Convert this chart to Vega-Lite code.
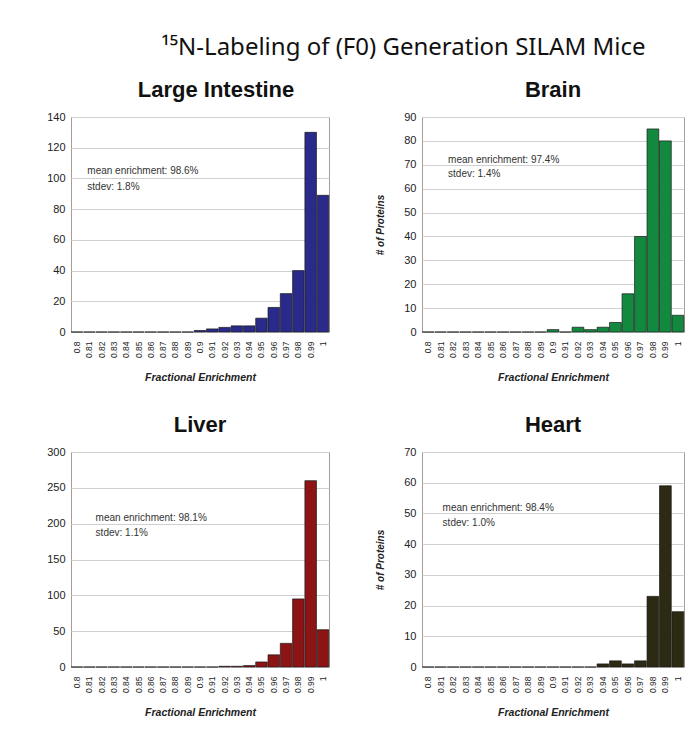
{
  "$schema": "https://vega.github.io/schema/vega-lite/v6.json",
  "padding": {"left": 46, "top": 35, "right": 4, "bottom": 4},
  "background": "white",
  "title": {"text": "¹⁵N-Labeling of (F0) Generation SILAM Mice", "font": "Noto Sans", "fontSize": 24, "fontWeight": "normal", "color": "#111", "anchor": "middle", "dx": 38, "offset": 19},
  "datasets": {
    "li": [
      {"fe": "0.8", "n": 0}, {"fe": "0.81", "n": 0}, {"fe": "0.82", "n": 0}, {"fe": "0.83", "n": 0}, {"fe": "0.84", "n": 0}, {"fe": "0.85", "n": 0}, {"fe": "0.86", "n": 0}, {"fe": "0.87", "n": 0}, {"fe": "0.88", "n": 0}, {"fe": "0.89", "n": 0},
      {"fe": "0.9", "n": 1}, {"fe": "0.91", "n": 2}, {"fe": "0.92", "n": 3}, {"fe": "0.93", "n": 4}, {"fe": "0.94", "n": 4}, {"fe": "0.95", "n": 9}, {"fe": "0.96", "n": 16}, {"fe": "0.97", "n": 25}, {"fe": "0.98", "n": 40}, {"fe": "0.99", "n": 130}, {"fe": "1", "n": 89}
    ],
    "brain": [
      {"fe": "0.8", "n": 0}, {"fe": "0.81", "n": 0}, {"fe": "0.82", "n": 0}, {"fe": "0.83", "n": 0}, {"fe": "0.84", "n": 0}, {"fe": "0.85", "n": 0}, {"fe": "0.86", "n": 0}, {"fe": "0.87", "n": 0}, {"fe": "0.88", "n": 0}, {"fe": "0.89", "n": 0},
      {"fe": "0.9", "n": 1}, {"fe": "0.91", "n": 0}, {"fe": "0.92", "n": 2}, {"fe": "0.93", "n": 1}, {"fe": "0.94", "n": 2}, {"fe": "0.95", "n": 4}, {"fe": "0.96", "n": 16}, {"fe": "0.97", "n": 40}, {"fe": "0.98", "n": 85}, {"fe": "0.99", "n": 80}, {"fe": "1", "n": 7}
    ],
    "liver": [
      {"fe": "0.8", "n": 0}, {"fe": "0.81", "n": 0}, {"fe": "0.82", "n": 0}, {"fe": "0.83", "n": 0}, {"fe": "0.84", "n": 0}, {"fe": "0.85", "n": 0}, {"fe": "0.86", "n": 0}, {"fe": "0.87", "n": 0}, {"fe": "0.88", "n": 0}, {"fe": "0.89", "n": 0},
      {"fe": "0.9", "n": 0}, {"fe": "0.91", "n": 0}, {"fe": "0.92", "n": 1}, {"fe": "0.93", "n": 1}, {"fe": "0.94", "n": 2}, {"fe": "0.95", "n": 7}, {"fe": "0.96", "n": 17}, {"fe": "0.97", "n": 33}, {"fe": "0.98", "n": 95}, {"fe": "0.99", "n": 260}, {"fe": "1", "n": 52}
    ],
    "heart": [
      {"fe": "0.8", "n": 0}, {"fe": "0.81", "n": 0}, {"fe": "0.82", "n": 0}, {"fe": "0.83", "n": 0}, {"fe": "0.84", "n": 0}, {"fe": "0.85", "n": 0}, {"fe": "0.86", "n": 0}, {"fe": "0.87", "n": 0}, {"fe": "0.88", "n": 0}, {"fe": "0.89", "n": 0},
      {"fe": "0.9", "n": 0}, {"fe": "0.91", "n": 0}, {"fe": "0.92", "n": 0}, {"fe": "0.93", "n": 0}, {"fe": "0.94", "n": 1}, {"fe": "0.95", "n": 2}, {"fe": "0.96", "n": 1}, {"fe": "0.97", "n": 2}, {"fe": "0.98", "n": 23}, {"fe": "0.99", "n": 59}, {"fe": "1", "n": 18}
    ],
    "notes": [
      {"panel": "li", "fe": "0.81", "y": 105, "label": "mean enrichment: 98.6%"},
      {"panel": "li", "fe": "0.81", "y": 94.5, "label": "stdev: 1.8%"},
      {"panel": "brain", "fe": "0.82", "y": 72, "label": "mean enrichment: 97.4%"},
      {"panel": "brain", "fe": "0.82", "y": 66, "label": "stdev: 1.4%"},
      {"panel": "liver", "fe": "0.82", "y": 208, "label": "mean enrichment: 98.1%"},
      {"panel": "liver", "fe": "0.82", "y": 187, "label": "stdev: 1.1%"},
      {"panel": "heart", "fe": "0.81", "y": 51.7, "label": "mean enrichment: 98.4%"},
      {"panel": "heart", "fe": "0.81", "y": 47, "label": "stdev: 1.0%"}
    ]
  },
  "columns": 2,
  "spacing": {"row": 29, "column": 45},
  "concat": [
    {
      "title": {"text": "Large Intestine", "dx": 16},
      "width": 258, "height": 215,
      "layer": [
        {
          "data": {"name": "li"},
          "mark": {"type": "bar", "fill": "#2a2a8a", "stroke": "#1a1a1a", "strokeWidth": 0.7},
          "encoding": {
            "x": {"field": "fe", "type": "ordinal", "scale": {"paddingInner": 0.06, "paddingOuter": 0.02}, "axis": {"title": "Fractional Enrichment"}},
            "y": {"field": "n", "type": "quantitative", "scale": {"domain": [0, 140]}, "axis": {"values": [0, 20, 40, 60, 80, 100, 120, 140], "title": null}}
          }
        },
        {
          "data": {"name": "notes"},
          "transform": [{"filter": "datum.panel === 'li'"}],
          "mark": {"type": "text", "align": "left", "baseline": "middle", "font": "Liberation Sans", "fontSize": 10, "color": "#333", "dx": -2},
          "encoding": {
            "x": {"field": "fe", "type": "ordinal", "axis": {"title": "Fractional Enrichment"}},
            "y": {"field": "y", "type": "quantitative", "axis": {"values": [0, 20, 40, 60, 80, 100, 120, 140], "title": null}},
            "text": {"field": "label"}
          }
        }
      ]
    },
    {
      "title": {"text": "Brain"},
      "width": 262, "height": 215,
      "layer": [
        {
          "data": {"name": "brain"},
          "mark": {"type": "bar", "fill": "#13893f", "stroke": "#1a1a1a", "strokeWidth": 0.7},
          "encoding": {
            "x": {"field": "fe", "type": "ordinal", "scale": {"paddingInner": 0.06, "paddingOuter": 0.02}, "axis": {"title": "Fractional Enrichment"}},
            "y": {"field": "n", "type": "quantitative", "scale": {"domain": [0, 90]}, "axis": {"values": [0, 10, 20, 30, 40, 50, 60, 70, 80, 90], "title": "# of Proteins"}}
          }
        },
        {
          "data": {"name": "notes"},
          "transform": [{"filter": "datum.panel === 'brain'"}],
          "mark": {"type": "text", "align": "left", "baseline": "middle", "font": "Liberation Sans", "fontSize": 10, "color": "#333", "dx": -5},
          "encoding": {
            "x": {"field": "fe", "type": "ordinal", "axis": {"title": "Fractional Enrichment"}},
            "y": {"field": "y", "type": "quantitative", "axis": {"values": [0, 10, 20, 30, 40, 50, 60, 70, 80, 90], "title": "# of Proteins"}},
            "text": {"field": "label"}
          }
        }
      ]
    },
    {
      "title": {"text": "Liver"},
      "width": 258, "height": 215,
      "layer": [
        {
          "data": {"name": "liver"},
          "mark": {"type": "bar", "fill": "#8c1414", "stroke": "#1a1a1a", "strokeWidth": 0.7},
          "encoding": {
            "x": {"field": "fe", "type": "ordinal", "scale": {"paddingInner": 0.06, "paddingOuter": 0.02}, "axis": {"title": "Fractional Enrichment"}},
            "y": {"field": "n", "type": "quantitative", "scale": {"domain": [0, 300]}, "axis": {"values": [0, 50, 100, 150, 200, 250, 300], "title": null}}
          }
        },
        {
          "data": {"name": "notes"},
          "transform": [{"filter": "datum.panel === 'liver'"}],
          "mark": {"type": "text", "align": "left", "baseline": "middle", "font": "Liberation Sans", "fontSize": 10, "color": "#333", "dx": -6},
          "encoding": {
            "x": {"field": "fe", "type": "ordinal", "axis": {"title": "Fractional Enrichment"}},
            "y": {"field": "y", "type": "quantitative", "axis": {"values": [0, 50, 100, 150, 200, 250, 300], "title": null}},
            "text": {"field": "label"}
          }
        }
      ]
    },
    {
      "title": {"text": "Heart"},
      "width": 262, "height": 215,
      "layer": [
        {
          "data": {"name": "heart"},
          "mark": {"type": "bar", "fill": "#2c2a12", "stroke": "#1a1a1a", "strokeWidth": 0.7},
          "encoding": {
            "x": {"field": "fe", "type": "ordinal", "scale": {"paddingInner": 0.06, "paddingOuter": 0.02}, "axis": {"title": "Fractional Enrichment"}},
            "y": {"field": "n", "type": "quantitative", "scale": {"domain": [0, 70]}, "axis": {"values": [0, 10, 20, 30, 40, 50, 60, 70], "title": "# of Proteins"}}
          }
        },
        {
          "data": {"name": "notes"},
          "transform": [{"filter": "datum.panel === 'heart'"}],
          "mark": {"type": "text", "align": "left", "baseline": "middle", "font": "Liberation Sans", "fontSize": 10, "color": "#333", "dx": 2},
          "encoding": {
            "x": {"field": "fe", "type": "ordinal", "axis": {"title": "Fractional Enrichment"}},
            "y": {"field": "y", "type": "quantitative", "axis": {"values": [0, 10, 20, 30, 40, 50, 60, 70], "title": "# of Proteins"}},
            "text": {"field": "label"}
          }
        }
      ]
    }
  ],
  "config": {
    "view": {"stroke": "#a89c94", "strokeWidth": 1},
    "title": {"font": "Liberation Sans", "fontSize": 22, "fontWeight": "bold", "color": "#111", "offset": 9},
    "axis": {
      "domain": false,
      "ticks": false,
      "labelFont": "Liberation Sans",
      "titleFont": "Liberation Sans",
      "labelColor": "#222",
      "titleColor": "#222",
      "gridColor": "#cfcfcf",
      "gridWidth": 1
    },
    "axisX": {"labelAngle": -90, "labelFontSize": 8.5, "labelPadding": 9, "titleFontSize": 10.5, "titleFontStyle": "italic", "titleFontWeight": "bold", "titlePadding": 15, "grid": false, "labelOverlap": false},
    "axisY": {"labelFontSize": 11, "labelPadding": 6, "labelOverlap": false, "titleFontSize": 10, "titleFontStyle": "italic", "titleFontWeight": "bold", "titlePadding": 18}
  }
}
